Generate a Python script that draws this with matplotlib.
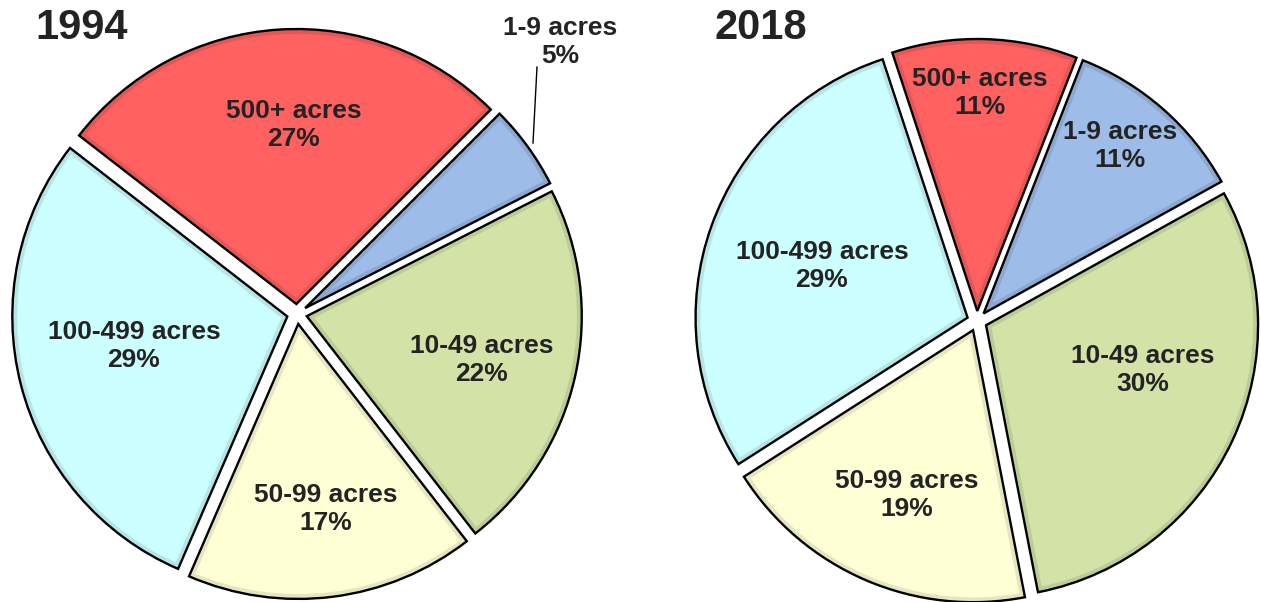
import matplotlib
matplotlib.use("Agg")
import matplotlib.pyplot as plt
from matplotlib.patches import Wedge

plt.rcParams['font.family'] = ['Liberation Sans', 'DejaVu Sans']

# ==================================================
# DATA
# ==================================================
categories = ["1-9 acres", "500+ acres", "100-499 acres", "50-99 acres", "10-49 acres"]
share_1994 = [5, 27, 29, 17, 22]
share_2018 = [11, 11, 29, 19, 30]
colors = ["#9DBCE8", "#FF6161", "#CCFFFF", "#FFFFD6", "#D3E3A8"]

W, H = 1261, 602
TEXT = "#232323"

fig = plt.figure(figsize=(W / 100, H / 100), dpi=100)
ax = fig.add_axes([0, 0, 1, 1])


def img_y(y):
    return H - y


def draw_pie(values, cx, cy, r, start):
    # explode is in data units (pixels here)
    wedges, _ = ax.pie(values, colors=colors, startangle=start, counterclock=True,
                       center=(cx, img_y(cy)), radius=r,
                       explode=[10] * len(values),
                       wedgeprops=dict(edgecolor="black", linewidth=1.7))
    # soft inner shading along the slice borders
    for w in wedges:
        shade = Wedge(w.center, w.r, w.theta1, w.theta2, facecolor="none",
                      edgecolor="black", alpha=0.10, linewidth=7, zorder=w.get_zorder())
        ax.add_patch(shade)
        shade.set_clip_path(w)


draw_pie(share_1994, 297, 314, 275, 27)
draw_pie(share_2018, 977, 321, 272, 29)

# labels (image-pixel positions)
lab_1994 = [(560, 42), (294, 125), (134, 346), (326, 509), (482, 360)]
lab_2018 = [(1120, 146), (980, 93), (822, 266), (907, 495), (1143, 370)]

for vals, pos in [(share_1994, lab_1994), (share_2018, lab_2018)]:
    for cat, v, (x, y) in zip(categories, vals, pos):
        ax.text(x, img_y(y), f"{cat}\n{v}%", ha="center", va="center",
                fontsize=19, fontweight="bold", color=TEXT, linespacing=1.25)

# leader line for the small 1994 slice
ax.plot([537, 533], [img_y(67), img_y(143)], color="black", lw=1)

ax.text(35, img_y(28), "1994", ha="left", va="center", fontsize=30,
        fontweight="bold", color=TEXT)
ax.text(714, img_y(28), "2018", ha="left", va="center", fontsize=30,
        fontweight="bold", color=TEXT)

ax.set_xlim(0, W)
ax.set_ylim(0, H)
ax.set_aspect("equal")
ax.axis("off")

plt.savefig("out.png", dpi=100)
plt.close()
